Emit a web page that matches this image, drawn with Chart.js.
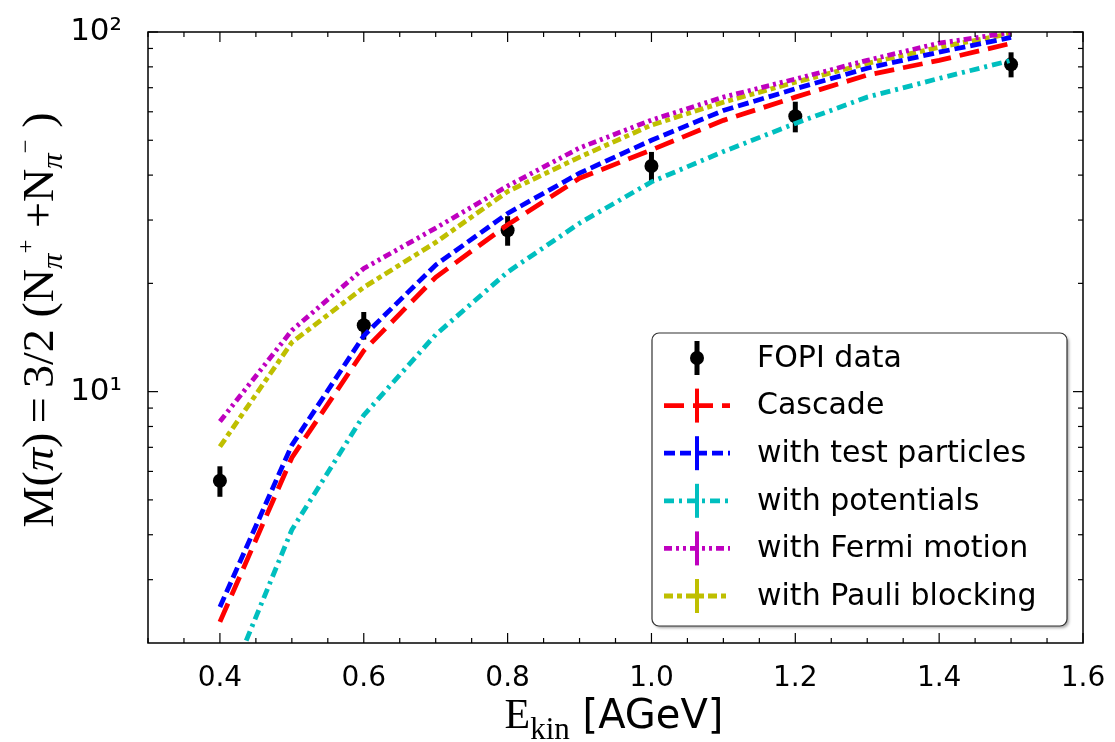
<!DOCTYPE html>
<html>
<head>
<meta charset="utf-8">
<script src="https://cdn.jsdelivr.net/npm/chart.js@4.4.0/dist/chart.umd.min.js"></script>
<style>
  html, body { margin: 0; padding: 0; background: #fff; }
  canvas { display: block; }
</style>
</head>
<body>
<canvas id="chart" width="1115" height="742"></canvas>
<script>
// beam energies of the transport calculations (AGeV)
const energies = [0.4, 0.5, 0.6, 0.7, 0.8, 0.9, 1.0, 1.1, 1.2, 1.3, 1.4, 1.5];

// pion multiplicities
const cascade = [2.29, 6.55, 13.0, 20.8, 29.1, 39.2, 47.0, 56.8, 65.9, 75.9, 83.4, 93.0];
const testParticles = [2.52, 7.1, 14.3, 22.5, 31.3, 40.5, 50.0, 60.5, 69.5, 79.3, 87.9, 96.6];
const potentials = [1.35, 4.13, 8.6, 14.4, 21.5, 29.4, 38.3, 46.5, 55.7, 65.9, 74.3, 83.4];
const fermiMotion = [8.26, 14.8, 22.0, 28.5, 37.3, 47.6, 56.9, 65.9, 74.0, 83.4, 93.1, 99.7];
const pauliBlocking = [7.03, 13.7, 19.5, 26.0, 36.0, 44.9, 55.1, 63.8, 72.5, 81.8, 90.7, 99.0];

// FOPI measurements
const fopiEnergy = [0.4, 0.6, 0.8, 1.0, 1.2, 1.5];
const fopiValue = [5.65, 15.3, 28.1, 42.4, 58.3, 81.3];
const fopiError = [0.55, 1.35, 2.65, 4.0, 5.7, 6.5];

const xTicks = [0.4, 0.6, 0.8, 1.0, 1.2, 1.4, 1.6];
const yTicks = [10, 100];
const yTickLabels = ['10\u00b9', '10\u00b2'];

const seriesNames = ['Cascade', 'with test particles', 'with potentials', 'with Fermi motion', 'with Pauli blocking'];
const seriesColors = ['#ff0000', '#0000ff', '#00bfbf', '#bf00bf', '#bfbf00'];
const seriesDashes = [[20, 9], [11, 5], [10, 5, 3, 5], [8, 4, 3, 4, 3, 4], [9, 4, 5, 4]];
const seriesValues = [cascade, testParticles, potentials, fermiMotion, pauliBlocking];

function pts(xs, ys) {
  return xs.map((x, i) => ({ x: x, y: ys[i] }));
}

const lineSets = seriesValues.map((vals, i) => ({
  label: seriesNames[i],
  data: pts(energies, vals),
  borderColor: seriesColors[i],
  borderDash: seriesDashes[i],
  borderWidth: 4.8,
  pointRadius: 0,
  fill: false,
  tension: 0,
  order: 0
}));

const fopiSet = {
  label: 'FOPI data',
  data: pts(fopiEnergy, fopiValue),
  showLine: false,
  pointRadius: 7,
  pointBackgroundColor: '#000',
  pointBorderWidth: 0,
  borderColor: '#000',
  order: 1
};

// vertical error bars for the measured points
const errorBars = {
  id: 'errorBars',
  beforeDatasetsDraw(chart) {
    const { ctx, scales: { x, y } } = chart;
    ctx.save();
    ctx.strokeStyle = '#000';
    ctx.lineWidth = 5;
    fopiEnergy.forEach((e, i) => {
      const px = x.getPixelForValue(e);
      ctx.beginPath();
      ctx.moveTo(px, y.getPixelForValue(fopiValue[i] - fopiError[i]));
      ctx.lineTo(px, y.getPixelForValue(fopiValue[i] + fopiError[i]));
      ctx.stroke();
    });
    ctx.restore();
  }
};

// axes box with inward ticks on every side
const frame = {
  id: 'frame',
  afterDraw(chart) {
    const { ctx, chartArea: a, scales: { x, y } } = chart;
    ctx.save();
    ctx.strokeStyle = '#000';
    ctx.lineWidth = 1.5;
    ctx.strokeRect(a.left, a.top, a.right - a.left, a.bottom - a.top);
    ctx.lineWidth = 1.2;
    const tick = (x1, y1, x2, y2) => { ctx.beginPath(); ctx.moveTo(x1, y1); ctx.lineTo(x2, y2); ctx.stroke(); };
    for (let k = 6; k <= 32; k++) {
      const v = k * 0.05;
      const len = (k % 4 === 0) ? 10 : 5;
      const px = x.getPixelForValue(v);
      tick(px, a.bottom, px, a.bottom - len);
      tick(px, a.top, px, a.top + len);
    }
    [1, 10].forEach(dec => {
      for (let m = 2; m <= 10; m++) {
        const v = m * dec;
        if (v <= 2 || v > 100) continue;
        const len = (m === 10) ? 10 : 5;
        const py = y.getPixelForValue(v);
        tick(a.left, py, a.left + len, py);
        tick(a.right, py, a.right - len, py);
      }
    });
    ctx.restore();
  }
};

// draws a run of differently styled text pieces centred on x, squeezed to fit if asked
function drawRich(ctx, pieces, x, y, fitWidth) {
  let w = 0;
  pieces.forEach(p => { ctx.font = p.font; w += ctx.measureText(p.t).width; });
  const k = fitWidth ? fitWidth / w : 1;
  ctx.save();
  ctx.translate(x, y);
  ctx.scale(k, 1);
  let cx = -w / 2;
  pieces.forEach(p => {
    ctx.font = p.font;
    ctx.fillText(p.t, cx, p.dy || 0);
    cx += ctx.measureText(p.t).width;
  });
  ctx.restore();
}

// axis titles with sub/superscripts
const titles = {
  id: 'titles',
  afterDraw(chart) {
    const { ctx } = chart;
    ctx.save();
    ctx.fillStyle = '#000';
    ctx.textBaseline = 'alphabetic';
    const serif = '"Liberation Serif", serif';
    const big = '45px ' + serif;
    const bigIt = 'italic 45px ' + serif;
    const sub = 'italic 30px ' + serif;
    const sup = '24px ' + serif;
    ctx.translate(53, 320);
    ctx.rotate(-Math.PI / 2);
    drawRich(ctx, [
      { t: 'M(', font: big }, { t: '\u03c0', font: bigIt }, { t: ')\u2009=\u20093/2 (N', font: big },
      { t: '\u03c0', font: sub, dy: 9 }, { t: '+', font: sup, dy: -20 },
      { t: ' +N', font: big },
      { t: '\u03c0', font: sub, dy: 9 }, { t: '\u2212', font: sup, dy: -20 },
      { t: ' )', font: big }
    ], 0, 0, 415);
    ctx.setTransform(1, 0, 0, 1, 0, 0);
    drawRich(ctx, [
      { t: 'E', font: '42px ' + serif },
      { t: 'kin', font: '31px ' + serif, dy: 11 },
      { t: ' [AGeV]', font: '40px "DejaVu Sans"' }
    ], 614, 728);
    ctx.restore();
  }
};

// legend box in the lower right corner
const legendBox = {
  id: 'legendBox',
  afterDraw(chart) {
    const { ctx, chartArea: a } = chart;
    const w = 415, h = 293;
    const bx = a.right - 16 - w, by = a.bottom - 17 - h;
    ctx.save();
    ctx.shadowColor = 'rgba(0,0,0,0.35)';
    ctx.shadowBlur = 3;
    ctx.shadowOffsetX = 2;
    ctx.shadowOffsetY = 2;
    ctx.fillStyle = '#fff';
    ctx.beginPath();
    ctx.roundRect(bx, by, w, h, 7);
    ctx.fill();
    ctx.shadowColor = 'transparent';
    ctx.strokeStyle = '#333';
    ctx.lineWidth = 1.2;
    ctx.stroke();

    const rowH = 47.6;
    const hx = bx + 12, hw = 66, barX = bx + 45;
    ctx.font = '30px "DejaVu Sans"';
    ctx.textBaseline = 'middle';
    const sets = chart.data.datasets;
    const ordered = [sets[sets.length - 1]].concat(sets.slice(0, sets.length - 1));
    ordered.forEach((ds, i) => {
      const cy = by + 25 + i * rowH;
      ctx.lineWidth = 4.8;
      if (ds.showLine === false) {
        ctx.strokeStyle = '#000';
        ctx.lineWidth = 5;
        ctx.beginPath(); ctx.moveTo(barX, cy - 17); ctx.lineTo(barX, cy + 17); ctx.stroke();
        ctx.fillStyle = '#000';
        ctx.beginPath(); ctx.arc(barX, cy, 7, 0, Math.PI * 2); ctx.fill();
      } else {
        ctx.strokeStyle = ds.borderColor;
        ctx.setLineDash(ds.borderDash);
        ctx.beginPath(); ctx.moveTo(hx, cy); ctx.lineTo(hx + hw, cy); ctx.stroke();
        ctx.setLineDash([]);
        ctx.lineWidth = 4;
        ctx.beginPath(); ctx.moveTo(barX, cy - 17); ctx.lineTo(barX, cy + 17); ctx.stroke();
      }
      ctx.fillStyle = '#000';
      ctx.fillText(ds.label, bx + 105, cy + 1);
    });
    ctx.restore();
  }
};

// keep tick labels from pushing the plot area inwards
function noLabelPadding(s) {
  s.paddingLeft = 0; s.paddingRight = 0; s.paddingTop = 0; s.paddingBottom = 0;
}

new Chart(document.getElementById('chart').getContext('2d'), {
  type: 'line',
  data: { datasets: lineSets.concat([fopiSet]) },
  options: {
    responsive: false,
    animation: false,
    layout: { padding: { top: 32, right: 32, left: 0, bottom: 0 } },
    plugins: { legend: { display: false }, tooltip: { enabled: false } },
    scales: {
      x: {
        type: 'linear',
        min: 0.3,
        max: 1.6,
        afterBuildTicks: s => { s.ticks = xTicks.map(v => ({ value: v })); },
        afterFit: s => { s.height = 99; noLabelPadding(s); },
        grid: { display: false, drawTicks: false },
        border: { display: false },
        ticks: {
          autoSkip: false,
          maxRotation: 0,
          padding: 19,
          color: '#000',
          font: { family: 'DejaVu Sans', size: 28 },
          callback: v => v.toFixed(1)
        }
      },
      y: {
        type: 'logarithmic',
        min: 2,
        max: 100,
        afterBuildTicks: s => { s.ticks = yTicks.map(v => ({ value: v })); },
        afterFit: s => { s.width = 148; noLabelPadding(s); },
        grid: { display: false, drawTicks: false },
        border: { display: false },
        ticks: {
          autoSkip: false,
          padding: 26,
          color: '#000',
          font: { family: 'DejaVu Sans', size: 31 },
          callback: v => yTickLabels[yTicks.indexOf(v)]
        }
      }
    }
  },
  plugins: [errorBars, frame, titles, legendBox]
});
</script>
</body>
</html>
